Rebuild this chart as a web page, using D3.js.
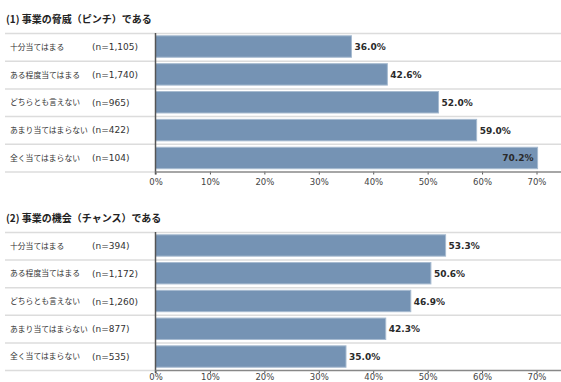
<!DOCTYPE html>
<html>
<head>
<meta charset="utf-8">
<script src="https://cdn.jsdelivr.net/npm/d3@7"></script>
<style>
  html, body { margin: 0; padding: 0; background: #fff; }
  svg { display: block; font-family: "Noto Sans CJK JP", "Noto Sans", sans-serif; }
</style>
</head>
<body>
<svg id="chart" width="561" height="382"></svg>
<script>
// Response categories and sample sizes
const categories = ["十分当てはまる", "ある程度当てはまる", "どちらとも言えない", "あまり当てはまらない", "全く当てはまらない"];

const threatTitle = "(1) 事業の脅威（ピンチ）である";
const threatN = ["1,105", "1,740", "965", "422", "104"];
const threatValues = [36.0, 42.6, 52.0, 59.0, 70.2];

const chanceTitle = "(2) 事業の機会（チャンス）である";
const chanceN = ["394", "1,172", "1,260", "877", "535"];
const chanceValues = [53.3, 50.6, 46.9, 42.3, 35.0];

const tickValues = [0, 10, 20, 30, 40, 50, 60, 70];

const svg = d3.select("#chart");
const W = 561;
const x = d3.scaleLinear().domain([0, 70]).range([155.5, 536.5]);

function panel(title, nList, values, top, bottom, tickGap) {
  const g = svg.append("g");
  const rows = categories.map((c, i) => ({ cat: c, n: nList[i], v: values[i] }));

  g.append("text")
    .attr("x", 6).attr("y", top - 10)
    .attr("font-size", 10).attr("font-weight", "bold").attr("fill", "#222")
    .text(title);

  const rowBand = d3.scaleBand().domain(d3.range(rows.length)).range([top, bottom]);
  const y = d3.scaleBand().domain(d3.range(rows.length)).range([top, bottom])
    .paddingInner(0.23).paddingOuter(0.1);

  // row separators
  g.selectAll("line.sep").data(d3.range(rows.length))
    .join("line")
    .attr("x1", 5).attr("x2", W)
    .attr("y1", i => rowBand(i) + 0.5).attr("y2", i => rowBand(i) + 0.5)
    .attr("stroke", "#dcdcdc").attr("stroke-width", 1.5);
  g.append("line")
    .attr("x1", 5).attr("x2", x(0))
    .attr("y1", bottom + 0.5).attr("y2", bottom + 0.5)
    .attr("stroke", "#dcdcdc").attr("stroke-width", 1.5);

  // labels
  g.selectAll("text.cat").data(rows).join("text")
    .attr("x", 10).attr("y", (d, i) => rowBand(i) + rowBand.bandwidth() / 2 + 3)
    .attr("font-size", 7.8).attr("fill", "#333")
    .text(d => d.cat);
  g.selectAll("text.n").data(rows).join("text")
    .attr("x", 92).attr("y", (d, i) => rowBand(i) + rowBand.bandwidth() / 2 + 3.5)
    .attr("font-size", 9).attr("fill", "#333")
    .attr("font-family", "'DejaVu Sans', sans-serif")
    .text(d => "(n=" + d.n + ")");

  // bars
  g.selectAll("rect.bar").data(rows).join("rect")
    .attr("x", x(0)).attr("y", (d, i) => y(i))
    .attr("width", d => x(d.v) - x(0)).attr("height", y.bandwidth())
    .attr("fill", "#7593b4").attr("stroke", "#a7bbd0").attr("stroke-width", 1);

  // value labels
  g.selectAll("text.val").data(rows).join("text")
    .attr("x", d => d.v > 65 ? x(d.v) - 4 : x(d.v) + 3)
    .attr("text-anchor", d => d.v > 65 ? "end" : "start")
    .attr("y", (d, i) => y(i) + y.bandwidth() / 2 + 3.5)
    .attr("font-size", 9).attr("font-weight", "bold").attr("fill", "#2a2a2a")
    .attr("font-family", "'DejaVu Sans', sans-serif")
    .text(d => d.v.toFixed(1) + "%");

  // vertical baseline
  g.append("line")
    .attr("x1", x(0)).attr("x2", x(0)).attr("y1", top).attr("y2", bottom + 3)
    .attr("stroke", "#555").attr("stroke-width", 1.5);

  // x axis
  const axis = d3.axisBottom(x).tickValues(tickValues).tickSize(3).tickFormat(d => d + "%");
  const ax = g.append("g").attr("transform", `translate(0,${bottom})`).call(axis);
  ax.select(".domain").remove();
  ax.append("line").attr("x1", x(0)).attr("x2", W).attr("y1", 0.5).attr("y2", 0.5)
    .attr("stroke", "#888").attr("stroke-width", 1.5);
  ax.selectAll(".tick line").attr("stroke", "#555");
  ax.selectAll(".tick text").attr("font-size", 8.5).attr("fill", "#444")
    .attr("y", tickGap).attr("dy", "0.71em")
    .attr("font-family", "'DejaVu Sans', sans-serif");
}

panel(threatTitle, threatN, threatValues, 33, 171.5, 7.5);
panel(chanceTitle, chanceN, chanceValues, 232, 370, 4);
</script>
</body>
</html>
